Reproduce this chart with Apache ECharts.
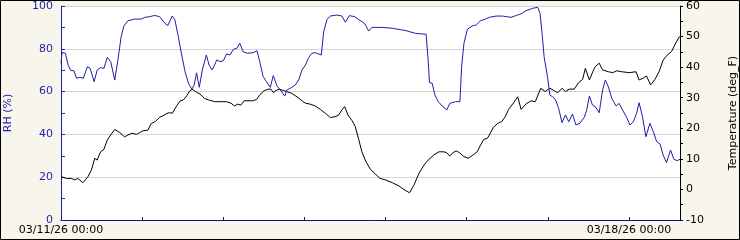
<!DOCTYPE html>
<html>
<head>
<meta charset="utf-8">
<script src="https://cdn.jsdelivr.net/npm/echarts@6/dist/echarts.min.js"></script>
<style>
html,body{margin:0;padding:0;background:#f8f6ec;}
#c{width:740px;height:240px;}
</style>
</head>
<body>
<div id="c"></div>
<script>
// Hours since 03/11/26 00:00
const rhHours = [0,0.3,1.3,2.1,2.9,3.8,4.6,5.6,6.6,7.8,8.6,9.8,10.7,11.7,12.7,13.7,14.7,15.9,16.9,17.8,18.6,19.8,21.8,23.8,24.8,26.2,27.7,29.2,30.7,31.6,32.9,33.7,34.7,35.7,36.7,37.7,38.7,39.4,40.1,40.9,41.8,43.0,43.8,44.7,46.1,47.0,48.0,49.0,50.0,51.0,52.0,52.9,53.9,55.2,56.9,58.0,58.9,59.8,60.8,61.9,62.8,63.9,64.9,66.2,66.8,68.3,69.3,70.3,71.3,72.3,73.3,74.2,75.2,77.0,77.7,78.7,79.7,81.6,83.1,84.1,85.3,86.9,88.2,89.8,91.0,92.0,95.0,98.0,102.0,104.9,108.0,108.6,109.0,109.8,110.6,111.6,113.0,114.1,115.0,116.7,118.0,118.5,119.2,120.2,121.6,122.8,124.1,125.4,126.7,128.7,130.6,133.1,135.1,136.1,137.5,139.5,141.0,141.7,142.3,142.9,143.9,144.6,145.4,146.2,147.2,148.2,149.2,150.2,151.3,152.3,153.5,154.8,155.5,156.3,157.2,158.2,159.2,160.2,161.0,161.9,162.9,164.2,165.1,166.1,167.3,168.3,169.3,170.3,171.0,172.0,173.0,174.2,175.2,176.2,177.2,178.1,179.1,180.3,181.3,182.3,183.1];
const rhValues = [73.2,78.2,77.9,72.4,69.8,69.8,66.2,66.7,66.2,71.6,70.9,64.6,70.1,71.2,70.9,76.0,74.0,65.4,75.5,85.7,90.7,93.1,93.9,93.9,94.7,95.0,95.6,95.0,91.9,90.9,95.3,93.5,85.7,77.1,69.3,63.9,61.1,63.1,68.8,62.0,70.1,77.1,72.4,70.1,74.8,74.0,74.4,77.6,77.1,79.8,80.2,82.6,78.6,77.9,78.2,79.1,73.2,67.0,64.6,62.0,67.5,62.6,60.7,57.9,60.7,62.0,63.1,65.4,70.1,72.4,76.0,77.9,78.2,77.1,88.0,93.8,95.3,95.8,95.3,92.4,95.5,95.0,93.5,91.9,88.3,90.0,90.0,89.6,88.5,87.2,86.8,74.8,64.2,63.9,58.4,55.3,52.9,51.4,54.5,55.3,55.3,71.6,82.6,89.1,90.7,91.1,93.1,93.8,94.7,95.3,95.3,94.7,95.8,96.3,97.8,98.9,99.4,96.6,87.2,76.3,67.0,58.4,57.6,56.4,52.2,45.5,49.1,45.9,49.5,44.4,45.2,48.0,51.4,58.0,53.7,52.7,50.1,60.7,65.4,62.3,56.9,53.3,54.5,51.4,48.0,44.4,45.9,50.1,54.8,48.3,38.9,45.2,41.3,36.6,35.5,30.4,26.8,32.7,28.4,27.7,28.4];
const tempHours = [0,1.6,3.0,4.1,5.0,6.5,8.0,9.0,10.0,10.7,11.7,12.7,13.7,14.7,15.9,17.4,18.8,19.8,21.0,22.3,23.3,24.3,25.7,26.7,27.9,29.2,30.5,31.4,32.0,32.9,34.2,35.2,36.2,37.2,37.9,38.8,39.8,41.1,42.4,43.6,45.5,47.0,49.0,50.3,51.3,52.3,53.2,54.2,56.9,57.9,58.9,60.1,61.3,62.1,62.9,63.4,64.6,65.9,66.8,68.3,69.8,71.3,72.3,73.7,75.2,76.7,78.2,79.7,81.1,82.1,83.1,83.9,84.9,86.1,87.0,88.1,89.0,90.2,91.5,93.0,94.4,96.0,98.0,100.0,101.4,103.1,104.4,105.9,107.4,108.6,110.3,111.8,113.3,114.1,115.0,115.9,116.9,117.9,119.2,120.5,121.9,123.1,124.1,125.1,126.1,126.7,127.9,129.2,130.4,131.4,132.4,133.6,135.1,136.1,137.5,139.0,140.3,141.9,143.2,144.6,145.9,146.9,148.2,149.2,150.3,151.8,153.1,154.3,155.1,156.3,157.3,158.0,159.2,160.2,161.9,163.2,164.4,165.8,168.1,170.1,171.0,172.2,173.2,174.4,175.7,176.9,178.1,179.3,180.6,181.9,182.8,183.1];
const tempValues = [4.2,3.6,3.6,3.1,3.6,2.2,4.2,6.4,10.2,9.6,12.3,13.1,16.2,17.8,19.6,18.6,17.2,17.8,18.4,18.0,18.6,19.2,19.4,21.6,22.2,23.6,24.3,24.9,25.1,24.9,27.3,28.9,29.3,30.6,32.0,32.8,32.0,31.2,29.8,29.3,28.7,28.7,28.7,28.2,27.3,27.9,27.6,29.0,29.0,29.5,31.1,32.3,32.8,32.8,31.6,32.3,32.8,32.3,32.0,31.4,30.3,29.0,28.2,27.9,27.3,26.2,24.9,23.5,23.8,24.3,26.0,27.1,24.3,22.5,20.7,16.2,12.3,9.1,6.6,5.0,3.6,3.1,2.2,1.1,0.0,-1.1,1.4,5.3,8.0,9.6,11.3,12.3,12.3,12.0,10.9,12.0,12.6,12.0,10.7,10.2,11.3,12.3,14.5,16.4,16.7,17.8,20.3,21.6,22.2,23.8,26.2,27.9,30.3,26.2,27.9,29.0,28.7,33.1,32.0,33.1,32.3,31.6,33.1,32.0,32.8,32.8,34.9,36.0,39.6,35.8,38.5,40.1,41.3,39.1,38.5,38.2,38.8,38.5,38.2,38.5,35.8,36.4,37.1,34.2,36.0,38.5,42.3,43.9,45.1,48.0,49.8,50.0];
const xTickLabels = {0: '03/11/26 00:00', 168: '03/18/26 00:00'};
const rhTicks = [0, 20, 40, 60, 80, 100];
const tempTicks = [-10, 0, 10, 20, 30, 40, 50, 60];

const BLUE = '#1e1ea6';
const FONT = 'DejaVu Sans';
const chart = echarts.init(document.getElementById('c'), null, {renderer: 'canvas'});
chart.setOption({
  animation: false,
  backgroundColor: '#f8f6ec',
  grid: {left: 61, right: 60, top: 6, bottom: 20, show: true, backgroundColor: '#ffffff', borderWidth: 0,
    containLabel: false, outerBoundsMode: 'none'},
  graphic: [{type: 'rect', shape: {x: 0.5, y: 0.5, width: 739, height: 239},
    style: {fill: 'none', stroke: '#000', lineWidth: 1}, z: 100}],
  xAxis: {
    type: 'value', min: 0, max: 183.1, interval: 24,
    axisLine: {lineStyle: {color: '#10108a', width: 1}},
    axisTick: {inside: true, length: 3, lineStyle: {color: '#10108a'}},
    splitLine: {show: false},
    axisLabel: {
      fontFamily: FONT, fontSize: 11, color: '#000', margin: 5,
      showMaxLabel: false, hideOverlap: false,
      formatter: v => xTickLabels[Math.round(v)] || ''
    }
  },
  yAxis: [{
    type: 'value', min: rhTicks[0], max: rhTicks[rhTicks.length - 1], interval: 20,
    position: 'left',
    name: 'RH (%)', nameLocation: 'middle', nameGap: 47, nameRotate: 90,
    nameTextStyle: {fontFamily: FONT, fontSize: 11, color: BLUE},
    axisLine: {show: true, lineStyle: {color: BLUE, width: 1}},
    axisTick: {show: true, inside: true, length: 4, lineStyle: {color: BLUE}},
    minorTick: {show: true, splitNumber: 2, length: 4, lineStyle: {color: BLUE}},
    splitLine: {show: true, lineStyle: {color: '#d4d4d4', width: 1}},
    axisLabel: {fontFamily: FONT, fontSize: 11, color: BLUE, margin: 8}
  }, {
    type: 'value', min: tempTicks[0], max: tempTicks[tempTicks.length - 1], interval: 10,
    position: 'right',
    name: 'Temperature (deg_F)', nameLocation: 'middle', nameGap: 48, nameRotate: 90,
    nameTextStyle: {fontFamily: FONT, fontSize: 11, color: '#000'},
    axisLine: {show: true, lineStyle: {color: '#000', width: 1}},
    axisTick: {show: true, inside: false, length: 3, lineStyle: {color: '#000'}},
    minorTick: {show: true, splitNumber: 2, length: 3, lineStyle: {color: '#000'}},
    splitLine: {show: false},
    axisLabel: {fontFamily: FONT, fontSize: 11, color: '#000', margin: 6}
  }],
  series: [{
    name: 'RH', type: 'line', yAxisIndex: 0, showSymbol: false, symbol: 'none',
    lineStyle: {color: BLUE, width: 1}, z: 3,
    data: rhHours.map((h, i) => [h, rhValues[i]])
  }, {
    name: 'Temperature', type: 'line', yAxisIndex: 1, showSymbol: false, symbol: 'none',
    lineStyle: {color: '#000', width: 1}, z: 2,
    data: tempHours.map((h, i) => [h, tempValues[i]])
  }]
});
</script>
</body>
</html>
